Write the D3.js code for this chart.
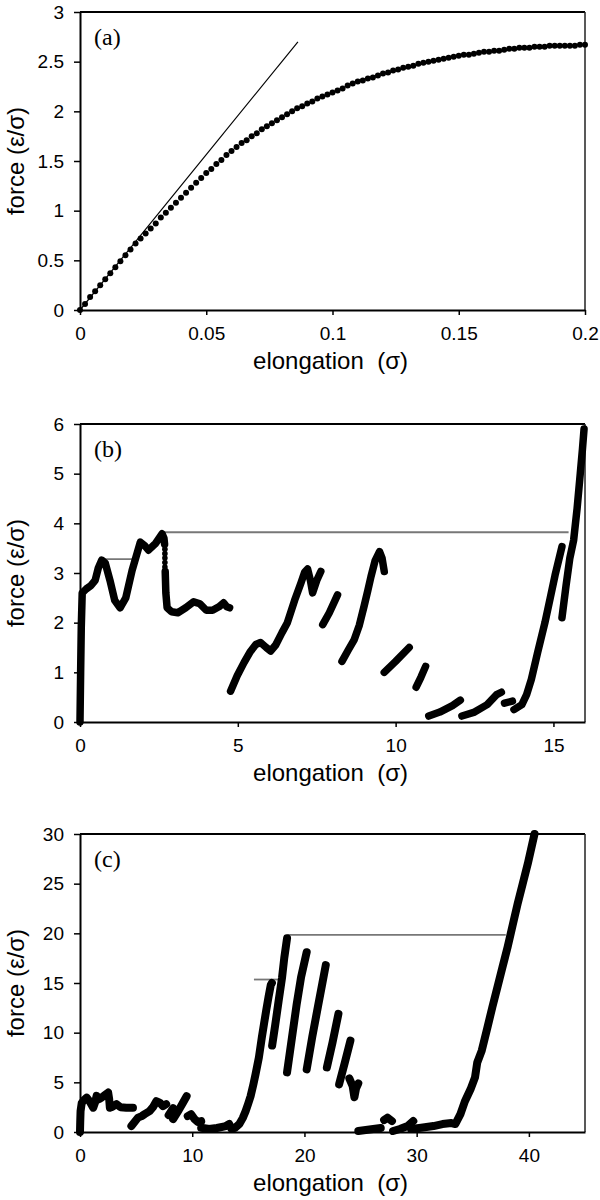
<!DOCTYPE html>
<html><head><meta charset="utf-8">
<script src="https://cdn.jsdelivr.net/npm/d3@7"></script>
<style>body{margin:0;background:#fff}svg{display:block}</style>
</head><body>
<svg id="chart" width="600" height="1200"></svg>
<script>
// ---------- Panel (a) data ----------
const aElong = [0,0.002,0.004,0.006,0.008,0.01,0.012,0.014,0.016,0.018,0.02,0.022,0.024,0.026,0.028,0.03,0.032,0.034,0.036,0.038,0.04,0.042,0.044,0.046,0.048,0.05,0.052,0.054,0.056,0.058,0.06,0.062,0.064,0.066,0.068,0.07,0.072,0.074,0.076,0.078,0.08,0.082,0.084,0.086,0.088,0.09,0.092,0.094,0.096,0.098,0.1,0.102,0.104,0.106,0.108,0.11,0.112,0.114,0.116,0.118,0.12,0.122,0.124,0.126,0.128,0.13,0.132,0.134,0.136,0.138,0.14,0.142,0.144,0.146,0.148,0.15,0.152,0.154,0.156,0.158,0.16,0.162,0.164,0.166,0.168,0.17,0.172,0.174,0.176,0.178,0.18,0.182,0.184,0.186,0.188,0.19,0.192,0.194,0.196,0.198,0.2];
const aForce = [0,0.06,0.13,0.19,0.25,0.31,0.37,0.43,0.49,0.55,0.61,0.67,0.72,0.77,0.82,0.87,0.93,0.98,1.03,1.08,1.13,1.18,1.23,1.28,1.33,1.38,1.42,1.47,1.51,1.56,1.60,1.64,1.68,1.71,1.75,1.78,1.82,1.85,1.88,1.91,1.94,1.97,2.00,2.03,2.05,2.08,2.10,2.13,2.15,2.17,2.19,2.21,2.23,2.26,2.28,2.30,2.31,2.33,2.34,2.36,2.38,2.39,2.41,2.42,2.44,2.45,2.46,2.48,2.49,2.50,2.51,2.52,2.53,2.54,2.55,2.56,2.57,2.57,2.58,2.59,2.60,2.60,2.61,2.61,2.62,2.63,2.63,2.64,2.64,2.64,2.65,2.65,2.65,2.66,2.66,2.66,2.66,2.66,2.66,2.67,2.67];
const aTangent = [[0,0],[0.0863,2.70]];
const aXTicks = [0,0.05,0.1,0.15,0.2];
const aYTicks = [0,0.5,1,1.5,2,2.5,3];

// ---------- Panel (b) data ----------
const bSeg1 = [[0,0],[0.02,1.0],[0.04,1.9],[0.07,2.6],[0.2,2.68],[0.35,2.75],[0.48,2.85],[0.58,3.1],[0.69,3.26],[0.8,3.2],[0.95,2.85],[1.1,2.45],[1.27,2.3],[1.45,2.5],[1.65,3.05],[1.91,3.62],[2.05,3.55],[2.17,3.46],[2.4,3.6],[2.6,3.79],[2.66,3.7],[2.68,3.58]];
const bDropX = [2.69,2.69,2.69,2.69,2.69];
const bDropF = [3.48,3.39,3.30,3.21,3.12];
const bSeg2 = [[2.7,3.03],[2.72,2.6],[2.76,2.3],[2.9,2.22],[3.1,2.2],[3.35,2.3],[3.6,2.42],[3.8,2.38],[4.0,2.25],[4.2,2.25],[4.4,2.32],[4.55,2.4],[4.65,2.32],[4.74,2.3]];
const bSeg3 = [[4.77,0.62],[4.98,0.93],[5.2,1.2],[5.4,1.42],[5.57,1.56],[5.72,1.6],[5.9,1.5],[6.04,1.43],[6.2,1.55],[6.4,1.8],[6.57,2.0],[6.8,2.45],[7.0,2.8],[7.12,3.02],[7.21,3.08],[7.3,2.85],[7.37,2.6],[7.5,2.85],[7.63,3.03]];
const bSeg4 = [[7.69,1.96],[7.9,2.2],[8.16,2.56]];
const bSeg5 = [[8.3,1.22],[8.5,1.45],[8.69,1.66],[8.85,1.95],[9.0,2.33],[9.12,2.65],[9.22,2.93],[9.35,3.25],[9.49,3.43],[9.57,3.3],[9.64,3.03]];
const bSeg6 = [[9.64,1.0],[10.0,1.22],[10.43,1.5]];
const bSeg7 = [[10.65,0.7],[10.8,0.9],[10.95,1.12]];
const bSeg8 = [[11.05,0.12],[11.4,0.2],[11.8,0.33],[12.05,0.44]];
const bSeg9 = [[12.1,0.12],[12.5,0.2],[12.9,0.35],[13.2,0.55],[13.35,0.6]];
const bSeg10 = [[13.45,0.38],[13.7,0.42]];
const bSeg11 = [[13.75,0.25],[14.0,0.35],[14.15,0.55],[14.3,0.86],[14.5,1.4],[14.73,2.0],[14.9,2.5],[15.05,2.95],[15.27,3.53]];
const bSeg12 = [[15.27,2.1],[15.4,2.75],[15.52,3.3],[15.64,3.66],[15.75,4.3],[15.85,5.0],[15.92,5.5],[15.97,5.9]];
const bGray1 = [[0.64,3.28],[1.85,3.28]];
const bGray2 = [[2.65,3.82],[15.48,3.82]];
const bXTicks = [0,5,10,15];
const bYTicks = [0,1,2,3,4,5,6];

// ---------- Panel (c) data ----------
const cSeg1 = [[0,0],[0.02,1.0],[0.05,2.1],[0.15,2.9],[0.35,3.2],[0.59,3.46],[0.85,3.1],[1.18,2.45],[1.35,3.0],[1.48,3.64],[1.7,3.3],[1.92,3.46],[2.2,3.7],[2.51,3.97],[2.6,3.3],[2.66,2.45],[2.9,2.55],[3.25,2.8],[3.6,2.5],[4.13,2.45],[4.72,2.45]];
const cSeg2 = [[4.58,0.6],[5.17,1.45],[5.5,1.6],[5.76,1.8],[6.2,2.1],[6.5,2.5],[6.8,3.1],[7.1,2.96],[7.4,2.6],[7.68,2.8]];
const cSeg3 = [[7.9,1.7],[8.3,2.4]];
const cSeg4 = [[8.3,1.3],[8.8,2.2],[9.2,3.0],[9.5,3.6]];
const cSeg5 = [[9.6,1.6],[9.9,1.8],[10.2,1.3],[10.5,1.0],[10.8,1.1]];
const cSeg6 = [[10.8,0.43],[11.5,0.3],[12.2,0.4],[13.0,0.6],[13.3,0.8],[13.5,0.3],[13.8,0.4],[14.2,0.8],[14.5,1.4],[14.76,2.1],[15.0,2.9],[15.2,3.6],[15.45,4.8],[15.65,5.85],[15.94,7.5],[16.2,9.5],[16.4,10.9],[16.6,12.3],[16.8,13.6],[17.0,14.8],[17.1,15.0]];
const cSeg7 = [[17.12,8.7],[17.4,10.8],[17.7,13.2],[18.0,15.5],[18.2,17.5],[18.45,19.5]];
const cSeg8 = [[18.45,6.0],[18.9,9.6],[19.3,12.8],[19.7,15.6],[20.2,18.1]];
const cSeg9 = [[20.2,6.3],[20.7,9.6],[21.2,12.6],[21.6,15.0],[21.9,16.8]];
const cSeg10 = [[22.0,6.5],[22.5,9.0],[23.03,11.9]];
const cSeg11 = [[23.09,4.8],[23.6,7.0],[24.1,9.2]];
const cSeg12 = [[24.0,5.4],[24.3,4.6],[24.45,3.5],[24.6,4.4],[24.8,4.9]];
const cSeg13 = [[24.8,0.1],[25.8,0.25],[26.8,0.4]];
const cSeg14 = [[27.1,1.2],[27.4,1.45],[27.8,1.1]];
const cSeg15 = [[27.9,0.1],[28.5,0.3],[29.2,0.6],[29.7,1.1]];
const cSeg16 = [[29.5,0.3],[30.4,0.43],[31.5,0.6],[32.3,0.8],[33.1,0.9],[33.45,0.8],[33.9,1.8],[34.3,3.1],[34.8,4.3],[35.2,5.5],[35.4,7.0],[35.8,8.2],[36.3,10.5],[36.75,12.6],[37.2,14.6],[37.65,16.6],[38.1,18.6],[38.55,20.8],[39.0,23.0],[39.45,25.0],[39.9,27.0],[40.5,30.0]];
const cGray1 = [[15.5,15.35],[18.0,15.35]];
const cGray2 = [[18.5,19.85],[37.94,19.85]];
const cXTicks = [0,10,20,30,40];
const cYTicks = [0,5,10,15,20,25,30];

const xLabel = "elongation\u00a0\u00a0(\u03c3)";
const yLabel = "force (\u03b5/\u03c3)";

// ---------- drawing ----------
const svg = d3.select("#chart");
const L = 80, R = 585, H = 298;
const sans = "'Liberation Sans', Arial, sans-serif";
const serif = "'Liberation Serif', 'Times New Roman', serif";

function panel(cfg) {
  const top = cfg.top, bottom = top + H;
  const x = d3.scaleLinear().domain(cfg.xDomain).range([L, R]);
  const y = d3.scaleLinear().domain(cfg.yDomain).range([bottom, top]);
  const g = svg.append("g");

  g.append("line").attr("x1", L).attr("x2", R).attr("y1", top).attr("y2", top)
    .attr("stroke", "#000").attr("stroke-width", 2);
  g.append("line").attr("x1", R).attr("x2", R).attr("y1", top).attr("y2", bottom)
    .attr("stroke", "#222").attr("stroke-width", 1.5);

  const ya = g.append("g").attr("transform", `translate(${L},0)`)
    .call(d3.axisLeft(y).tickValues(cfg.yTicks).tickFormat(d3.format("~g")).tickSize(6).tickSizeOuter(0).tickPadding(10));
  const xa = g.append("g").attr("transform", `translate(0,${bottom})`)
    .call(d3.axisBottom(x).tickValues(cfg.xTicks).tickFormat(d3.format("~g")).tickSize(5).tickSizeOuter(0).tickPadding(12));
  [ya, xa].forEach(a => {
    a.select(".domain").attr("stroke", "#000").attr("stroke-width", 2);
    a.selectAll(".tick line").attr("stroke", "#000").attr("stroke-width", 1.5);
    a.selectAll("text").attr("font-family", sans).attr("font-size", 19).attr("fill", "#000");
  });

  const line = d3.line().x(d => x(d[0])).y(d => y(d[1]));
  (cfg.gray || []).forEach(s => {
    g.append("path").attr("d", line(s)).attr("fill", "none")
      .attr("stroke", "#777").attr("stroke-width", 1.8);
  });
  (cfg.thin || []).forEach(s => {
    g.append("path").attr("d", line(s)).attr("fill", "none")
      .attr("stroke", "#000").attr("stroke-width", 1.2);
  });
  (cfg.segs || []).forEach(s => {
    g.append("path").attr("d", line(s)).attr("fill", "none")
      .attr("stroke", "#000").attr("stroke-width", cfg.sw)
      .attr("stroke-linecap", "round").attr("stroke-linejoin", "round");
  });
  (cfg.dots || []).forEach(dd => {
    g.selectAll(null).data(dd.xs).enter().append("circle")
      .attr("cx", d => x(d)).attr("cy", (d, i) => y(dd.fs[i])).attr("r", dd.r).attr("fill", "#000");
  });

  g.append("text").attr("x", 94).attr("y", top + 33).attr("font-family", serif)
    .attr("font-size", 24).text(cfg.tag);
  g.append("text").attr("transform", `translate(24,${(top + bottom) / 2}) rotate(-90)`)
    .attr("text-anchor", "middle").attr("font-family", sans).attr("font-size", 24).text(yLabel);
  g.append("text").attr("x", (L + R) / 2 - 2).attr("y", bottom + 59)
    .attr("text-anchor", "middle").attr("font-family", sans).attr("font-size", 24).text(xLabel);
}

panel({ top: 12, xDomain: [0, 0.2], yDomain: [0, 3], xTicks: aXTicks, yTicks: aYTicks, tag: "(a)",
  thin: [aTangent], dots: [{ xs: aElong, fs: aForce, r: 3 }] });
panel({ top: 424, xDomain: [0, 16], yDomain: [0, 6], xTicks: bXTicks, yTicks: bYTicks, tag: "(b)", sw: 7.5,
  gray: [bGray1, bGray2],
  segs: [bSeg1, bSeg2, bSeg3, bSeg4, bSeg5, bSeg6, bSeg7, bSeg8, bSeg9, bSeg10, bSeg11, bSeg12],
  dots: [{ xs: bDropX, fs: bDropF, r: 2.8 }] });
panel({ top: 834, xDomain: [0, 45], yDomain: [0, 30], xTicks: cXTicks, yTicks: cYTicks, tag: "(c)", sw: 8,
  gray: [cGray1, cGray2],
  segs: [cSeg1, cSeg2, cSeg3, cSeg4, cSeg5, cSeg6, cSeg7, cSeg8, cSeg9, cSeg10, cSeg11, cSeg12, cSeg13, cSeg14, cSeg15, cSeg16] });
</script>
</body></html>
